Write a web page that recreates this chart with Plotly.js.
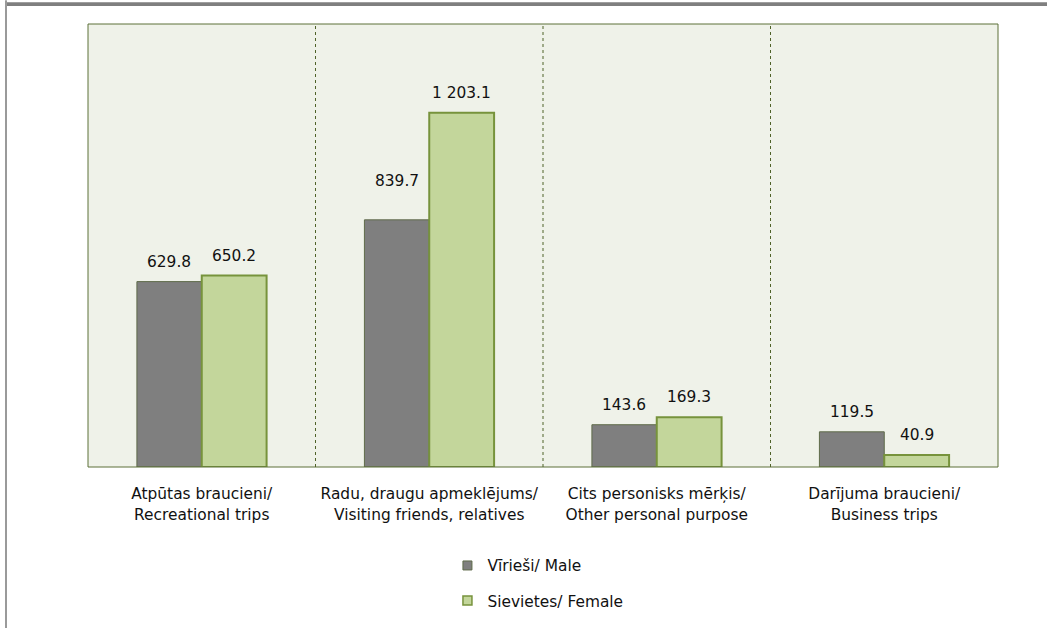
<!DOCTYPE html>
<html>
<head>
<meta charset="utf-8">
<script src="https://cdn.plot.ly/plotly-3.0.1.min.js"></script>
<style>html,body{margin:0;padding:0;background:#fff;}#chart{width:1047px;height:630px;}</style>
</head>
<body>
<div id="chart"></div>
<script>
const categories = [
  "Atpūtas braucieni/<br>Recreational trips",
  "Radu, draugu apmeklējums/<br>Visiting friends, relatives",
  "Cits personisks mērķis/<br>Other personal purpose",
  "Darījuma braucieni/<br>Business trips"
];
const seriesNames = ["Vīrieši/ Male", "Sievietes/ Female"];
const maleValues = [629.8, 839.7, 143.6, 119.5];
const femaleValues = [650.2, 1203.1, 169.3, 40.9];

function fmt(v) {
  const parts = v.toFixed(1).split(".");
  parts[0] = parts[0].replace(/\B(?=(\d{3})+(?!\d))/g, " ");
  return parts.join(".");
}

const FONT = "DejaVu Sans, Verdana, sans-serif";
const FS = 15.4;
const TXT = "#111111";

const traces = [
  {
    type: "bar", name: seriesNames[0], x: categories, y: maleValues,
    marker: { color: "#7F7F7F", line: { color: "#5f6b4a", width: 1 } },
    hoverinfo: "skip", showlegend: false
  },
  {
    type: "bar", name: seriesNames[1], x: categories, y: femaleValues,
    marker: { color: "#C3D69B", line: { color: "#77933C", width: 2 } },
    hoverinfo: "skip", showlegend: false
  },
  {
    type: "scatter", mode: "markers", name: seriesNames[0], x: [null], y: [null],
    marker: { symbol: "square", size: 9, color: "#7F7F7F", line: { color: "#5f6b4a", width: 1 } },
    legendgroup: "m", hoverinfo: "skip"
  },
  {
    type: "scatter", mode: "markers", name: seriesNames[1], x: [null], y: [null],
    marker: { symbol: "square", size: 9, color: "#C3D69B", line: { color: "#77933C", width: 1.5 } },
    legendgroup: "f", hoverinfo: "skip"
  }
];

const groupOffset = 0.143;
const labelShift = [[20, 39, 20, 20], [20, 20, 20, 20]];
const annotations = [];
[maleValues, femaleValues].forEach((vals, s) => {
  vals.forEach((v, i) => {
    annotations.push({
      x: i + (s === 0 ? -groupOffset : groupOffset), y: v, xref: "x", yref: "y",
      text: fmt(v), showarrow: false, yshift: labelShift[s][i],
      font: { family: FONT, size: FS, color: TXT }
    });
  });
});

const shapes = [
  { type: "rect", xref: "paper", yref: "paper", x0: -82/910, x1: 1049/910 - 88/910, y0: (470-2)/446, y1: (470-6)/446, fillcolor: "#7F7F7F", line: { width: 0 }, layer: "below" },
  { type: "line", xref: "paper", yref: "paper", x0: -82/910, x1: -82/910, y0: (470-0)/446, y1: (470-632)/446, line: { color: "#9a9a9a", width: 2 } },
  { type: "rect", xref: "paper", yref: "paper", x0: 0, x1: 1, y0: 0, y1: 1, line: { color: "#5c7138", width: 1 } },
  { type: "line", xref: "x", yref: "paper", x0: 0.5, x1: 0.5, y0: 0, y1: 1, line: { color: "#4F6228", width: 1, dash: "dot" } },
  { type: "line", xref: "x", yref: "paper", x0: 1.5, x1: 1.5, y0: 0, y1: 1, line: { color: "#4F6228", width: 1, dash: "dot" } },
  { type: "line", xref: "x", yref: "paper", x0: 2.5, x1: 2.5, y0: 0, y1: 1, line: { color: "#4F6228", width: 1, dash: "dot" } }
];

const layout = {
  width: 1047, height: 630,
  margin: { l: 88, r: 49, t: 24, b: 160 },
  paper_bgcolor: "#ffffff",
  plot_bgcolor: "#EFF2E9",
  barmode: "group",
  bargap: 0.43,
  bargroupgap: 0,
  font: { family: FONT, size: FS, color: TXT },
  xaxis: {
    type: "category", showgrid: false, zeroline: false, showline: false,
    ticks: "outside", ticklen: 13, tickcolor: "rgba(0,0,0,0)",
    tickfont: { family: FONT, size: FS, color: TXT },
    range: [-0.5, 3.5]
  },
  yaxis: {
    range: [0, 1505], showgrid: false, zeroline: false, showline: false,
    showticklabels: false, ticks: ""
  },
  showlegend: true,
  legend: {
    orientation: "v", x: 0.395, xanchor: "left", y: -0.185, yanchor: "top",
    font: { family: FONT, size: FS, color: TXT },
    tracegroupgap: 12, bgcolor: "rgba(0,0,0,0)", itemwidth: 30
  },
  annotations: annotations,
  shapes: shapes
};

Plotly.newPlot("chart", traces, layout, { displayModeBar: false, staticPlot: true });
</script>
</body>
</html>
